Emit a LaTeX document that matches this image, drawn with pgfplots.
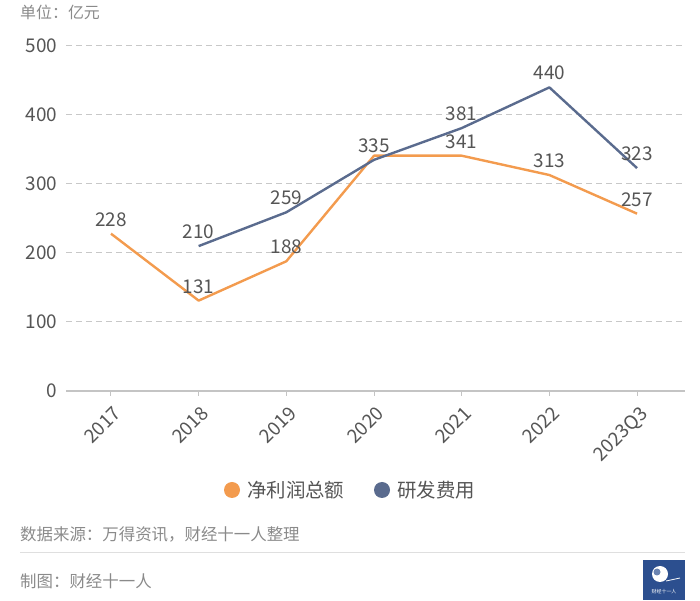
\documentclass[border=0pt]{standalone}
\usepackage{fontspec}
\setmainfont{Noto Sans CJK SC}
\usepackage{pgfplots}
\pgfplotsset{compat=1.18}
\definecolor{orangeL}{HTML}{F39B4E}
\definecolor{blueL}{HTML}{5A6B8E}
\definecolor{tickgray}{HTML}{555555}
\definecolor{srcgray}{HTML}{8A8A8A}
\definecolor{gridgray}{HTML}{C8C8C8}
\definecolor{axisgray}{HTML}{C4C4C4}
\definecolor{logoblue}{HTML}{2C4F8F}
\begin{document}
\begin{tikzpicture}[x=1bp,y=1bp]
\path[use as bounding box] (0,0) rectangle (700,601);
\begin{axis}[
  at={(66bp,210bp)}, anchor=south west,
  scale only axis, width=619bp, height=345bp,
  xmin=-0.513, xmax=6.547, ymin=0, ymax=500,
  clip=false,
  axis x line*=bottom, axis y line*=left,
  y axis line style={draw=none},
  x axis line style={draw=axisgray, line width=1.2bp, -},
  ytick style={draw=none},
  xtick style={draw=axisgray, line width=1bp},
  major tick length=5bp, tick align=outside,
  ymajorgrids,
  grid style={gridgray, line width=1bp, dash pattern=on 6bp off 4bp},
  ytick={0,100,200,300,400,500},
  xtick={0,1,2,3,4,5,6},
  xticklabels={2017,2018,2019,2020,2021,2022,2023Q3},
  /pgf/number format/assume math mode=true,
  yticklabel style={font=\fontsize{19}{22}\selectfont, text=tickgray},
  xticklabel style={rotate=45, anchor=north east, xshift=-2bp, yshift=-4bp, font=\fontsize{19}{22}\selectfont, text=tickgray},
  every node near coord/.append style={font=\fontsize{19}{22}\selectfont, text=tickgray, inner sep=1bp, anchor=south, yshift=5bp},
]
\addplot[orangeL, line width=2.4bp, line join=round, no marks, point meta=explicit symbolic, nodes near coords]
  coordinates {(0,228)[228] (1,131)[131] (2,188)[188] (3,341)[\phantom{0}] (4,341)[341] (5,313)[313] (6,257)[257]};
\addplot[blueL, line width=2.4bp, line join=round, no marks, point meta=explicit symbolic, nodes near coords]
  coordinates {(1,210)[210] (2,259)[259] (3,335)[335] (4,381)[381] (5,440)[440] (6,323)[323]};
\end{axis}
\node[anchor=west, inner sep=0, font=\fontsize{16}{18}\selectfont, text=srcgray] at (20,589) {单位：亿元};
\fill[orangeL] (232,111) circle (8);
\node[anchor=west, inner sep=0, font=\fontsize{19.5}{22}\selectfont, text=tickgray] at (247,111) {净利润总额};
\fill[blueL] (382,111) circle (8);
\node[anchor=west, inner sep=0, font=\fontsize{19.5}{22}\selectfont, text=tickgray] at (397,111) {研发费用};
\node[anchor=west, inner sep=0, font=\fontsize{16.5}{18}\selectfont, text=srcgray] at (20,67) {数据来源：万得资讯，财经十一人整理};
\draw[gray!25, line width=1bp] (20,48) -- (685,48);
\node[anchor=west, inner sep=0, font=\fontsize{16.5}{18}\selectfont, text=srcgray] at (20,20) {制图：财经十一人};
\fill[logoblue] (643,1) rectangle (685,41);
\fill[white] (660,27) circle (8);
\fill[logoblue!70] (657,29) circle (3.5);
\draw[white, line width=0.8bp] (666,20) -- (680,23);
\node[inner sep=0, font=\fontsize{5}{6}\selectfont, text=white] at (664,9) {财经十一人};
\end{tikzpicture}
\end{document}
